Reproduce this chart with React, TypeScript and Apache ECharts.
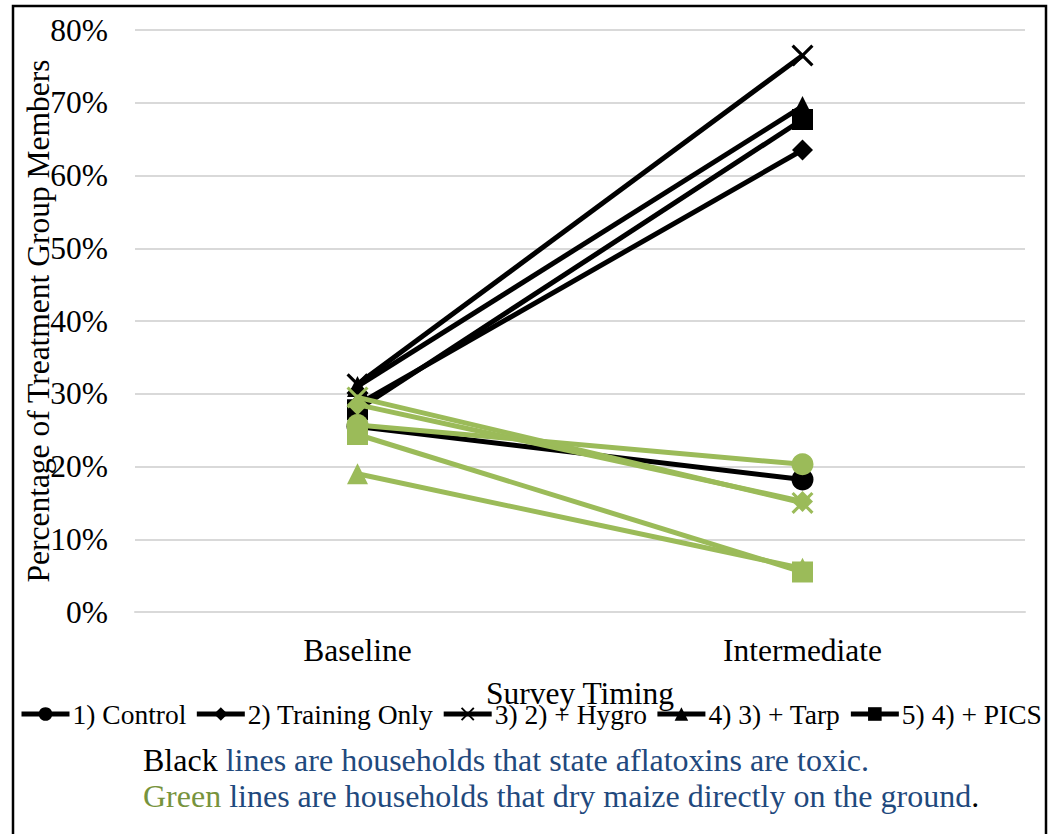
import React, { useEffect, useRef } from "react";
import * as echarts from "echarts";

// Survey rounds on the x axis
const timings = ["Baseline", "Intermediate"];

// Treatment groups
const groups = ["1) Control", "2) Training Only", "3) 2) + Hygro", "4) 3) + Tarp", "5) 4) + PICS"];

// Households that state aflatoxins are toxic (%), per group: [baseline, intermediate]
const toxicControl = [25.5, 18.2];
const toxicTraining = [28.5, 63.5];
const toxicHygro = [31.3, 76.5];
const toxicTarp = [31.0, 69.5];
const toxicPics = [27.8, 67.7];

// Households that dry maize directly on the ground (%), per group: [baseline, intermediate]
const groundControl = [25.7, 20.3];
const groundTraining = [28.5, 15.2];
const groundHygro = [29.5, 15.0];
const groundTarp = [19.0, 6.0];
const groundPics = [24.4, 5.5];

const yTicks = { min: 0, max: 80, interval: 10 };

const FONT = "Liberation Serif";
const BLACK = "#000000";
const GREEN = "#9BBB59";

const CROSS =
  "path://M0,2 L2,0 L10,8 L18,0 L20,2 L12,10 L20,18 L18,20 L10,12 L2,20 L0,18 L8,10 Z";

const markers = [
  { symbol: "circle", size: 22 },
  { symbol: "diamond", size: 21 },
  { symbol: CROSS, size: 22 },
  { symbol: "triangle", size: 21 },
  { symbol: "rect", size: 21 },
];

export default function App() {
  const ref = useRef<HTMLDivElement>(null);

  useEffect(() => {
    if (!ref.current) return;
    const chart = echarts.init(ref.current, null, { renderer: "svg" });

    const toxic = [toxicControl, toxicTraining, toxicHygro, toxicTarp, toxicPics];
    const ground = [groundControl, groundTraining, groundHygro, groundTarp, groundPics];

    const makeSeries = (name: string, data: number[], color: string, i: number, z: number) => ({
      name,
      type: "line",
      data,
      symbol: markers[i].symbol,
      symbolSize: markers[i].size,
      showSymbol: true,
      z,
      lineStyle: { color, width: 5 },
      itemStyle: { color, borderWidth: 0 },
      emphasis: { disabled: true },
    });

    const series = [
      ...toxic.map((d, i) => makeSeries(groups[i], d, BLACK, i, 2)),
      ...ground.map((d, i) => makeSeries(groups[i] + " ", d, GREEN, i, 3)),
    ];

    chart.setOption({
      animation: false,
      textStyle: { fontFamily: FONT },
      grid: { left: 135, right: 32, top: 30, bottom: 222, containLabel: false },
      xAxis: {
        type: "category",
        data: timings,
        boundaryGap: true,
        axisTick: { show: false },
        axisLine: { lineStyle: { color: "#d9d9d9", width: 2 } },
        axisLabel: { fontSize: 31.5, color: "#000", margin: 22, fontFamily: FONT },
        name: "Survey Timing",
        nameLocation: "middle",
        nameGap: 65,
        nameMoveOverlap: false,
        nameTextStyle: { fontSize: 31.5, color: "#000", fontFamily: FONT },
      },
      yAxis: {
        type: "value",
        min: yTicks.min,
        max: yTicks.max,
        interval: yTicks.interval,
        axisLine: { show: false },
        axisTick: { show: false },
        axisLabel: { formatter: "{value}%", fontSize: 31.5, color: "#000", margin: 27, fontFamily: FONT },
        splitLine: { lineStyle: { color: "#d9d9d9", width: 2 } },
        name: "Percentage of Treatment Group Members",
        nameLocation: "middle",
        nameGap: 81,
        nameMoveOverlap: false,
        nameTextStyle: { fontSize: 31.5, color: "#000", fontFamily: FONT },
      },
      legend: {
        data: groups,
        left: 14,
        top: 695,
        itemGap: 8,
        itemWidth: 48,
        itemHeight: 17,
        lineStyle: { width: 5 },
        textStyle: { fontSize: 27.5, color: "#000", fontFamily: FONT, padding: [0, 0, 0, -2] },
      },
      graphic: [
        {
          type: "rect",
          shape: { x: 13, y: 6, width: 1033, height: 850 },
          style: { fill: "none", stroke: "#000", lineWidth: 2.5 },
          silent: true,
        },
        {
          type: "text",
          left: 143,
          top: 744,
          style: {
            text: "{k|Black}{b| lines are households that state aflatoxins are toxic.}",
            rich: {
              k: { fill: "#000", fontSize: 32, fontFamily: FONT },
              b: { fill: "#1F497D", fontSize: 32, fontFamily: FONT },
            },
          },
        },
        {
          type: "text",
          left: 143,
          top: 780,
          style: {
            text: "{g|Green}{b| lines are households that dry maize directly on the ground}{k|.}",
            rich: {
              k: { fill: "#000", fontSize: 32, fontFamily: FONT },
              g: { fill: "#77933C", fontSize: 32, fontFamily: FONT },
              b: { fill: "#1F497D", fontSize: 32, fontFamily: FONT },
            },
          },
        },
      ],
      series,
    });

    return () => chart.dispose();
  }, []);

  return (
    <div
      ref={ref}
      style={{ position: "absolute", left: 0, top: 0, width: 1057, height: 834, background: "#fff" }}
    />
  );
}
